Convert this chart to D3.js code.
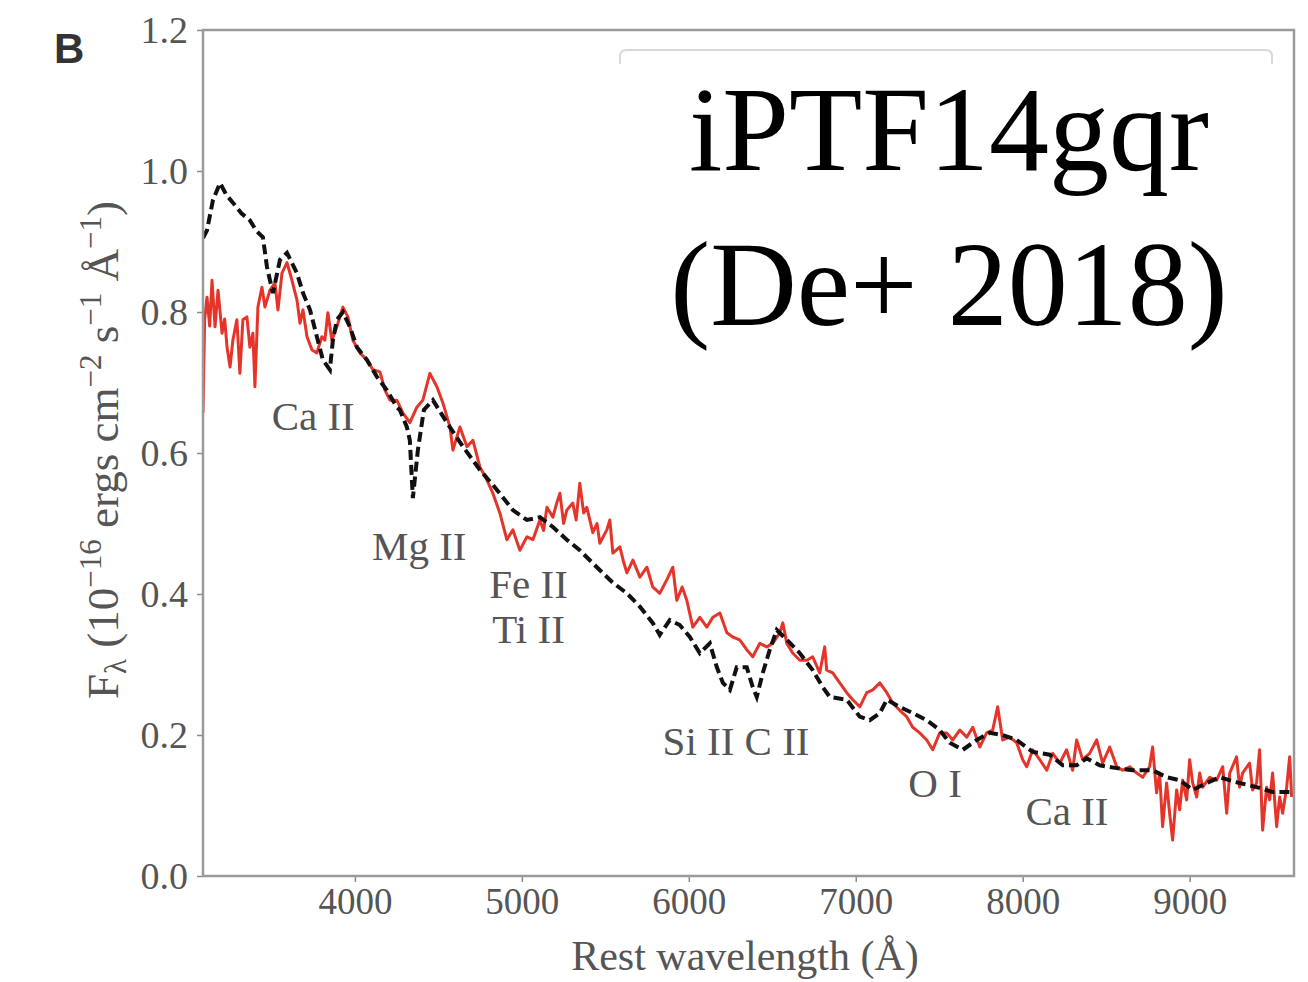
<!DOCTYPE html>
<html>
<head>
<meta charset="utf-8">
<script src="https://cdn.jsdelivr.net/npm/d3@7"></script>
<style>
  body { margin: 0; background: #fff; }
  text { font-family: "Liberation Serif", "Times New Roman", serif; }
</style>
</head>
<body>
<svg id="chart"></svg>
<script>
// model spectrum (black dashed): [wavelength, flux]
var modelSpec = [
  [3090, 0.905], [3114, 0.916], [3150, 0.959], [3192, 0.983], [3230, 0.966], [3269, 0.955],
  [3320, 0.940], [3371, 0.930], [3410, 0.915], [3449, 0.906], [3473, 0.864], [3491, 0.845],
  [3509, 0.827], [3551, 0.874], [3593, 0.884], [3653, 0.855], [3689, 0.827], [3731, 0.803],
  [3772, 0.765], [3808, 0.732], [3850, 0.718], [3868, 0.760], [3892, 0.789], [3928, 0.800],
  [3970, 0.779], [4012, 0.750], [4072, 0.732], [4132, 0.708], [4192, 0.689], [4251, 0.665],
  [4269, 0.661], [4311, 0.637], [4329, 0.618], [4347, 0.536], [4377, 0.604], [4413, 0.661],
  [4467, 0.675], [4551, 0.643], [4647, 0.609], [4749, 0.576], [4850, 0.548], [4946, 0.519],
  [5030, 0.505], [5108, 0.509], [5186, 0.495], [5269, 0.477], [5347, 0.462], [5449, 0.438],
  [5545, 0.416], [5629, 0.401], [5707, 0.382], [5784, 0.359], [5826, 0.342], [5886, 0.363],
  [5946, 0.356], [6006, 0.339], [6066, 0.316], [6126, 0.330], [6168, 0.296], [6204, 0.274],
  [6246, 0.264], [6287, 0.296], [6347, 0.296], [6383, 0.268], [6407, 0.254], [6443, 0.288],
  [6485, 0.321], [6527, 0.349], [6587, 0.335], [6665, 0.316], [6742, 0.292], [6802, 0.268],
  [6844, 0.254], [6946, 0.250], [7024, 0.226], [7084, 0.221], [7144, 0.231], [7186, 0.250],
  [7263, 0.240], [7341, 0.231], [7425, 0.221], [7503, 0.207], [7563, 0.189], [7641, 0.179],
  [7725, 0.193], [7802, 0.203], [7880, 0.200], [7964, 0.193], [8060, 0.176], [8162, 0.172],
  [8240, 0.157], [8323, 0.157], [8383, 0.167], [8461, 0.157], [8563, 0.153], [8659, 0.150],
  [8778, 0.150], [8862, 0.140], [8940, 0.136], [9018, 0.122], [9102, 0.132], [9180, 0.140],
  [9281, 0.133], [9401, 0.126], [9497, 0.119], [9611, 0.119]
];

// observed spectrum (red): [wavelength, flux]
var observedSpec = [
  [3090, 0.657], [3100, 0.790], [3114, 0.821], [3130, 0.780], [3144, 0.845], [3162, 0.779],
  [3180, 0.831], [3204, 0.770], [3220, 0.790], [3234, 0.750], [3252, 0.722], [3269, 0.760],
  [3293, 0.789], [3311, 0.713], [3329, 0.789], [3353, 0.793], [3371, 0.750], [3389, 0.770],
  [3401, 0.694], [3419, 0.807], [3443, 0.835], [3461, 0.807], [3491, 0.831], [3521, 0.841],
  [3539, 0.803], [3563, 0.855], [3593, 0.870], [3623, 0.845], [3653, 0.817], [3671, 0.784],
  [3689, 0.803], [3713, 0.765], [3743, 0.746], [3772, 0.742], [3802, 0.765], [3820, 0.760],
  [3838, 0.799], [3862, 0.760], [3892, 0.779], [3928, 0.807], [3958, 0.793], [3988, 0.760],
  [4030, 0.742], [4072, 0.732], [4108, 0.718], [4150, 0.715], [4180, 0.689], [4210, 0.675],
  [4251, 0.675], [4287, 0.657], [4329, 0.643], [4371, 0.665], [4407, 0.675], [4449, 0.713],
  [4491, 0.694], [4527, 0.671], [4569, 0.637], [4587, 0.604], [4629, 0.637], [4671, 0.609],
  [4707, 0.618], [4749, 0.580], [4790, 0.562], [4826, 0.543], [4868, 0.515], [4910, 0.477],
  [4946, 0.491], [4988, 0.462], [5030, 0.481], [5066, 0.477], [5108, 0.505], [5130, 0.490],
  [5150, 0.523], [5186, 0.509], [5210, 0.530], [5228, 0.543], [5250, 0.500], [5269, 0.519],
  [5305, 0.529], [5325, 0.505], [5347, 0.557], [5370, 0.515], [5389, 0.523], [5425, 0.487],
  [5450, 0.500], [5467, 0.472], [5509, 0.491], [5527, 0.505], [5545, 0.458], [5587, 0.467],
  [5610, 0.445], [5629, 0.430], [5665, 0.448], [5707, 0.424], [5749, 0.438], [5784, 0.410],
  [5826, 0.401], [5868, 0.420], [5904, 0.438], [5928, 0.391], [5960, 0.410], [5988, 0.391],
  [6024, 0.353], [6066, 0.367], [6108, 0.353], [6144, 0.367], [6186, 0.373], [6228, 0.345],
  [6263, 0.339], [6305, 0.335], [6347, 0.321], [6383, 0.311], [6425, 0.330], [6467, 0.325],
  [6503, 0.330], [6545, 0.345], [6563, 0.359], [6587, 0.330], [6623, 0.316], [6665, 0.306],
  [6707, 0.306], [6742, 0.311], [6784, 0.288], [6814, 0.325], [6826, 0.292], [6862, 0.288],
  [6904, 0.274], [6946, 0.260], [6982, 0.250], [7024, 0.240], [7066, 0.260], [7102, 0.264],
  [7144, 0.274], [7186, 0.260], [7222, 0.245], [7263, 0.235], [7305, 0.226], [7341, 0.211],
  [7383, 0.203], [7425, 0.193], [7461, 0.179], [7503, 0.203], [7545, 0.203], [7581, 0.193],
  [7623, 0.207], [7665, 0.197], [7701, 0.211], [7743, 0.183], [7784, 0.203], [7820, 0.207],
  [7850, 0.240], [7880, 0.193], [7922, 0.197], [7964, 0.189], [8000, 0.165], [8024, 0.155],
  [8060, 0.179], [8102, 0.165], [8144, 0.150], [8180, 0.174], [8222, 0.160], [8263, 0.179],
  [8299, 0.150], [8323, 0.193], [8359, 0.165], [8401, 0.174], [8443, 0.193], [8479, 0.160],
  [8521, 0.183], [8563, 0.155], [8599, 0.150], [8641, 0.155], [8683, 0.146], [8719, 0.140],
  [8760, 0.155], [8778, 0.183], [8802, 0.118], [8820, 0.146], [8838, 0.070], [8862, 0.132],
  [8880, 0.089], [8898, 0.051], [8922, 0.122], [8940, 0.094], [8958, 0.136], [8982, 0.108],
  [9000, 0.165], [9018, 0.132], [9042, 0.112], [9060, 0.146], [9078, 0.126], [9120, 0.140],
  [9162, 0.136], [9198, 0.155], [9222, 0.089], [9240, 0.146], [9281, 0.169], [9299, 0.126],
  [9317, 0.146], [9359, 0.160], [9377, 0.122], [9401, 0.132], [9419, 0.179], [9437, 0.065],
  [9461, 0.126], [9479, 0.108], [9497, 0.146], [9521, 0.070], [9539, 0.112], [9557, 0.089],
  [9581, 0.126], [9599, 0.169], [9611, 0.112]
];

// line identifications, anchored in data space (centre, baseline)
var lineIds = [
  { name: "Ca II", wave: 3750, flux: 0.633 },
  { name: "Mg II", wave: 4385, flux: 0.448 },
  { name: "Fe II", wave: 5040, flux: 0.394 },
  { name: "Ti II", wave: 5040, flux: 0.330 },
  { name: "Si II C II", wave: 6283, flux: 0.172 },
  { name: "O I", wave: 7475, flux: 0.112 },
  { name: "Ca II", wave: 8265, flux: 0.072 }
];

var xTicks = [4000, 5000, 6000, 7000, 8000, 9000];
var yTicks = [0, 0.2, 0.4, 0.6, 0.8, 1.0, 1.2];
var objName = "iPTF14gqr";
var objRef = "(De+ 2018)";

var width = 1308, height = 982;
var marginLeft = 203, marginTop = 30, plotRight = 1294, plotBottom = 876;

var svg = d3.select("#chart").attr("width", width).attr("height", height);

// scales
var xScale = d3.scaleLinear().domain([3090, 9625]).range([marginLeft, plotRight]);
var yScale = d3.scaleLinear().domain([0, 1.2]).range([plotBottom, marginTop]);

svg.append("defs").append("clipPath").attr("id", "plot-clip")
  .append("rect")
  .attr("x", marginLeft).attr("y", marginTop)
  .attr("width", plotRight - marginLeft).attr("height", plotBottom - marginTop);

// axes
var xAxis = d3.axisBottom(xScale).tickValues(xTicks).tickSize(6).tickPadding(6).tickFormat(d3.format("d"));
var yAxis = d3.axisLeft(yScale).tickValues(yTicks).tickSize(6).tickPadding(9).tickFormat(d3.format(".1f"));

svg.append("g")
  .attr("transform", `translate(0,${plotBottom})`)
  .call(xAxis)
  .call((g) => g.select(".domain").remove())
  .call((g) => g.selectAll(".tick line").attr("stroke", "#8a8a8a").attr("stroke-width", 1.5))
  .call((g) => g.selectAll(".tick text")
    .attr("fill", "#555").style("font-family", "Liberation Serif").style("font-size", "37px"));

svg.append("g")
  .attr("transform", `translate(${marginLeft},0)`)
  .call(yAxis)
  .call((g) => g.select(".domain").remove())
  .call((g) => g.selectAll(".tick line").attr("stroke", "#8a8a8a").attr("stroke-width", 1.5))
  .call((g) => g.selectAll(".tick text")
    .attr("fill", "#555").style("font-family", "Liberation Serif").style("font-size", "38px"));

// faint legend box remnant behind the label
svg.append("path")
  .attr("d", "M620,64 L620,56 Q620,50 627,50 L1265,50 Q1272,50 1272,56 L1272,64")
  .attr("fill", "none")
  .attr("stroke", "#d8d8d8")
  .attr("stroke-width", 2);

// spectra
var line = d3.line().x((d) => xScale(d[0])).y((d) => yScale(d[1]));

svg.append("path")
  .datum(observedSpec)
  .attr("clip-path", "url(#plot-clip)")
  .attr("d", line)
  .attr("fill", "none")
  .attr("stroke", "#e5352a")
  .attr("stroke-width", 3)
  .attr("stroke-linejoin", "round");

svg.append("path")
  .datum(modelSpec)
  .attr("clip-path", "url(#plot-clip)")
  .attr("d", line)
  .attr("fill", "none")
  .attr("stroke", "#111")
  .attr("stroke-width", 4)
  .attr("stroke-dasharray", "10,5");

// frame
svg.append("rect")
  .attr("x", marginLeft).attr("y", marginTop)
  .attr("width", plotRight - marginLeft).attr("height", plotBottom - marginTop)
  .attr("fill", "none")
  .attr("stroke", "#9a9a9a")
  .attr("stroke-width", 2.5);

// line labels
svg.selectAll(".line-id")
  .data(lineIds)
  .enter()
  .append("text")
  .attr("class", "line-id")
  .attr("x", (d) => xScale(d.wave))
  .attr("y", (d) => yScale(d.flux))
  .attr("text-anchor", "middle")
  .attr("fill", "#555")
  .style("font-size", "41px")
  .text((d) => d.name);

// axis titles
svg.append("text")
  .attr("x", 745)
  .attr("y", 970)
  .attr("text-anchor", "middle")
  .attr("fill", "#555")
  .style("font-size", "42px")
  .text("Rest wavelength (Å)");

var yTitle = svg.append("text")
  .attr("transform", "translate(118,450) rotate(-90)")
  .attr("text-anchor", "middle")
  .attr("fill", "#555")
  .style("font-size", "45px");
yTitle.append("tspan").text("F");
yTitle.append("tspan").attr("dy", 8).style("font-size", "31px").text("λ");
yTitle.append("tspan").attr("dy", -8).text(" (10");
yTitle.append("tspan").attr("dy", -17).style("font-size", "31px").text("−16");
yTitle.append("tspan").attr("dy", 17).text(" ergs cm");
yTitle.append("tspan").attr("dy", -17).style("font-size", "31px").text("−2");
yTitle.append("tspan").attr("dy", 17).text(" s");
yTitle.append("tspan").attr("dy", -17).style("font-size", "31px").text("−1");
yTitle.append("tspan").attr("dy", 17).text(" Å");
yTitle.append("tspan").attr("dy", -17).style("font-size", "31px").text("−1");
yTitle.append("tspan").attr("dy", 17).text(")");

// panel letter
svg.append("text")
  .attr("x", 54)
  .attr("y", 63)
  .attr("fill", "#333")
  .style("font-family", "Liberation Sans")
  .style("font-weight", "bold")
  .style("font-size", "42px")
  .text("B");

// object name
svg.append("text")
  .attr("x", 949)
  .attr("y", 170)
  .attr("text-anchor", "middle")
  .attr("fill", "#000")
  .style("font-size", "120px")
  .text(objName);
svg.append("text")
  .attr("x", 949)
  .attr("y", 325)
  .attr("text-anchor", "middle")
  .attr("fill", "#000")
  .style("font-size", "120px")
  .text(objRef);
</script>
</body>
</html>
